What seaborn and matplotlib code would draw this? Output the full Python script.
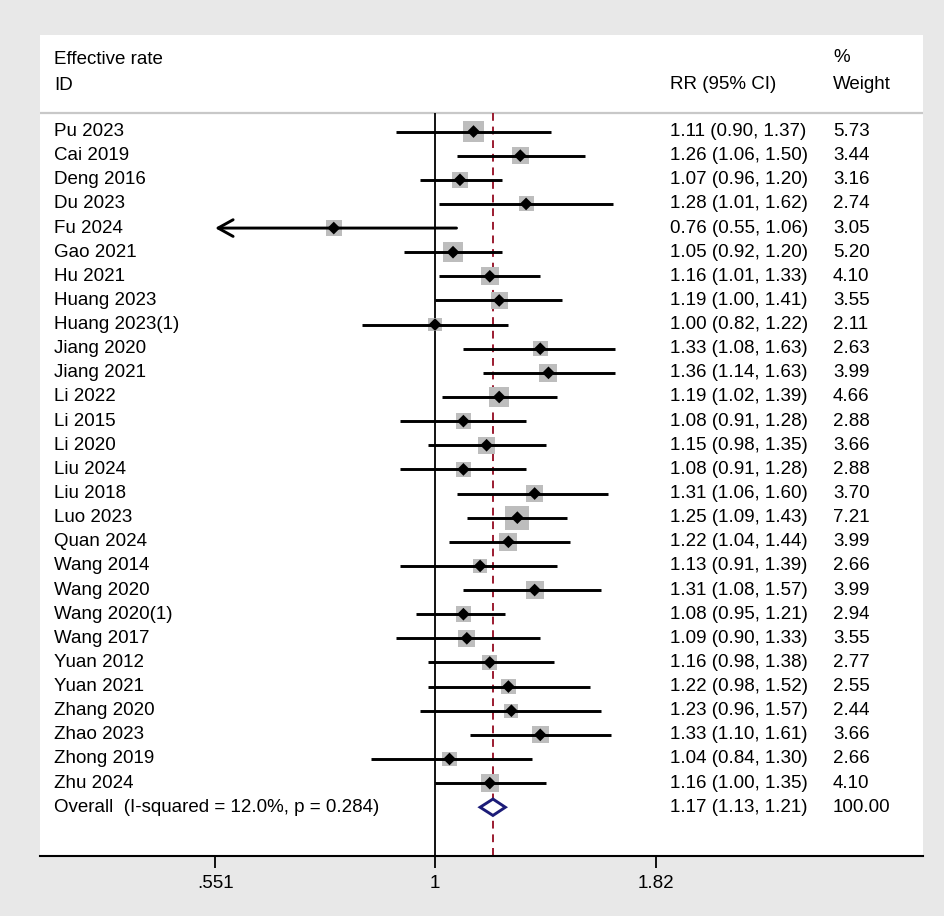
import numpy as np
import pandas as pd
import matplotlib
matplotlib.use("Agg")
import matplotlib.pyplot as plt
import matplotlib.transforms as mtransforms
from matplotlib.patches import Polygon
import seaborn as sns

# --- data ---
studies = ['Pu 2023', 'Cai 2019', 'Deng 2016', 'Du 2023', 'Fu 2024', 'Gao 2021',
           'Hu 2021', 'Huang 2023', 'Huang 2023(1)', 'Jiang 2020', 'Jiang 2021',
           'Li 2022', 'Li 2015', 'Li 2020', 'Liu 2024', 'Liu 2018', 'Luo 2023',
           'Quan 2024', 'Wang 2014', 'Wang 2020', 'Wang 2020(1)', 'Wang 2017',
           'Yuan 2012', 'Yuan 2021', 'Zhang 2020', 'Zhao 2023', 'Zhong 2019', 'Zhu 2024']
rr = [1.11, 1.26, 1.07, 1.28, 0.76, 1.05, 1.16, 1.19, 1.00, 1.33, 1.36, 1.19, 1.08, 1.15,
      1.08, 1.31, 1.25, 1.22, 1.13, 1.31, 1.08, 1.09, 1.16, 1.22, 1.23, 1.33, 1.04, 1.16]
lower = [0.90, 1.06, 0.96, 1.01, 0.55, 0.92, 1.01, 1.00, 0.82, 1.08, 1.14, 1.02, 0.91, 0.98,
         0.91, 1.06, 1.09, 1.04, 0.91, 1.08, 0.95, 0.90, 0.98, 0.98, 0.96, 1.10, 0.84, 1.00]
upper = [1.37, 1.50, 1.20, 1.62, 1.06, 1.20, 1.33, 1.41, 1.22, 1.63, 1.63, 1.39, 1.28, 1.35,
         1.28, 1.60, 1.43, 1.44, 1.39, 1.57, 1.21, 1.33, 1.38, 1.52, 1.57, 1.61, 1.30, 1.35]
weight = [5.73, 3.44, 3.16, 2.74, 3.05, 5.20, 4.10, 3.55, 2.11, 2.63, 3.99, 4.66, 2.88, 3.66,
          2.88, 3.70, 7.21, 3.99, 2.66, 3.99, 2.94, 3.55, 2.77, 2.55, 2.44, 3.66, 2.66, 4.10]
overall_label = 'Overall  (I-squared = 12.0%, p = 0.284)'
overall = [1.17, 1.13, 1.21]
overall_weight = 100.00
tick_vals = [0.551, 1, 1.82]
tick_labels = ['.551', '1', '1.82']

df = pd.DataFrame({'study': studies, 'rr': rr, 'lower': lower,
                   'upper': upper, 'weight': weight})
df['row'] = np.arange(len(df))
overall_row = len(df)

# --- figure ---
sns.set_theme(style='white')
plt.rcParams['font.family'] = ['Liberation Sans', 'DejaVu Sans']
plt.rcParams['text.color'] = 'black'
plt.rcParams['xtick.color'] = 'black'
plt.rcParams['xtick.labelcolor'] = 'black'
bg = '#e8e8e8'
fig = plt.figure(figsize=(9.44, 9.16), dpi=100, facecolor=bg)
ax = fig.add_axes([40 / 944, 60 / 916, 883 / 944, 821 / 916])
ax.set_facecolor('white')

ax.set_xscale('log')
ax.set_xlim(0.3428, 3.753)
ax.set_ylim(30.02, -4.0)
xmin_clip = tick_vals[0]
sep_y = -0.77

# reference lines
ax.vlines(1, sep_y, 30.02, color='black', lw=1.3, zorder=2)
ax.vlines(overall[0], sep_y, 30.02, color='#9b1b30', lw=1.4,
          linestyles=(0, (4, 3)), zorder=2)
ax.axhline(sep_y, color='#c8c8c8', lw=1.6, zorder=1)

# weight boxes (area proportional to weight)
k = 42
sns.scatterplot(data=df, x='rr', y='row', size='weight', marker='s',
                sizes=(k * min(weight), k * max(weight)),
                size_norm=(min(weight), max(weight)),
                color='#bdbdbd', edgecolor='none', legend=False, ax=ax, zorder=3)

# confidence intervals
for _, r in df.iterrows():
    if r['lower'] < xmin_clip:
        ax.annotate('', xy=(xmin_clip, r['row']), xytext=(r['upper'], r['row']),
                    arrowprops=dict(arrowstyle='->,head_length=0.9,head_width=0.5',
                                    color='black', lw=2.1, shrinkA=0, shrinkB=0),
                    zorder=4)
    else:
        ax.hlines(r['row'], r['lower'], r['upper'], color='black', lw=2.1, zorder=4)

# point estimates
sns.scatterplot(data=df, x='rr', y='row', marker='D', s=42, color='black',
                edgecolor='none', legend=False, ax=ax, zorder=5)

# overall diamond
dh = 0.34
diamond = Polygon([(overall[1], overall_row), (overall[0], overall_row - dh),
                   (overall[2], overall_row), (overall[0], overall_row + dh)],
                  closed=True, facecolor='white', edgecolor='#1c1c78', lw=2.1, zorder=6)
ax.add_patch(diamond)

# text columns
trans = mtransforms.blended_transform_factory(ax.transAxes, ax.transData)
fs = 13.5
x_lab, x_rr, x_w = 0.0159, 0.7135, 0.898
ax.text(x_lab, -3.0, 'Effective rate', transform=trans, fontsize=fs, va='center')
ax.text(x_lab, -1.9, 'ID', transform=trans, fontsize=fs, va='center')
ax.text(x_rr, -1.95, 'RR (95% CI)', transform=trans, fontsize=fs, va='center')
ax.text(x_w, -3.05, '%', transform=trans, fontsize=fs, va='center')
ax.text(x_w, -1.95, 'Weight', transform=trans, fontsize=fs, va='center')

for _, r in df.iterrows():
    ax.text(x_lab, r['row'], r['study'], transform=trans, fontsize=fs, va='center')
    ax.text(x_rr, r['row'], f"{r['rr']:.2f} ({r['lower']:.2f}, {r['upper']:.2f})",
            transform=trans, fontsize=fs, va='center')
    ax.text(x_w, r['row'], f"{r['weight']:.2f}", transform=trans, fontsize=fs, va='center')

ax.text(x_lab, overall_row, overall_label, transform=trans, fontsize=fs, va='center')
ax.text(x_rr, overall_row, f"{overall[0]:.2f} ({overall[1]:.2f}, {overall[2]:.2f})",
        transform=trans, fontsize=fs, va='center')
ax.text(x_w, overall_row, f"{overall_weight:.2f}", transform=trans, fontsize=fs, va='center')

# axis styling
for side in ['top', 'left', 'right']:
    ax.spines[side].set_visible(False)
ax.spines['bottom'].set_color('black')
ax.spines['bottom'].set_linewidth(1.5)
ax.set_xticks(tick_vals)
ax.set_xticklabels(tick_labels)
ax.xaxis.set_minor_locator(matplotlib.ticker.NullLocator())
ax.tick_params(axis='x', direction='out', length=8.6, width=1.3, color='black',
               labelcolor='black', labelsize=fs, pad=5, bottom=True)
ax.set_yticks([])
ax.set_xlabel('')
ax.set_ylabel('')

fig.savefig('out.png', dpi=100, facecolor=bg)
